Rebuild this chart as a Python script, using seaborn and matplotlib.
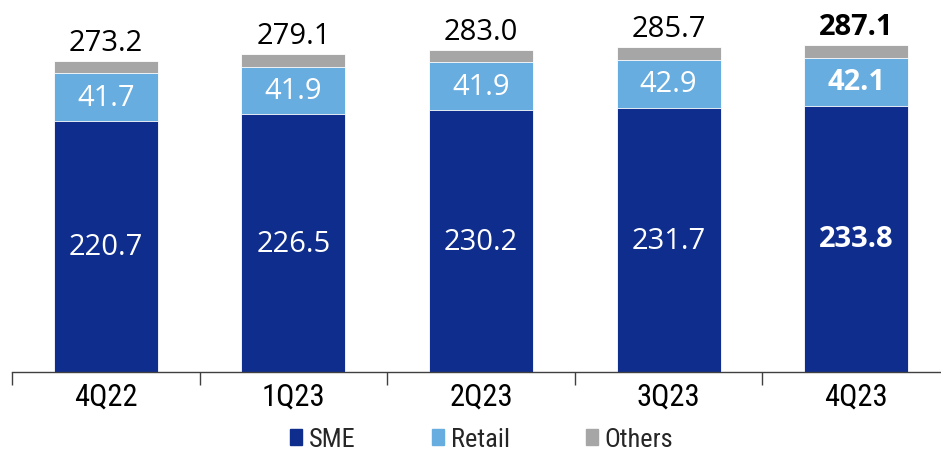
import matplotlib
matplotlib.use("Agg")
import matplotlib.pyplot as plt
import seaborn as sns
import pandas as pd
import numpy as np
from matplotlib.patches import Patch
from matplotlib import font_manager as fm

quarters = ["4Q22", "1Q23", "2Q23", "3Q23", "4Q23"]
sme = [220.7, 226.5, 230.2, 231.7, 233.8]
retail = [41.7, 41.9, 41.9, 42.9, 42.1]
totals = [273.2, 279.1, 283.0, 285.7, 287.1]
others = [round(t - s - r, 1) for t, s, r in zip(totals, sme, retail)]

c_sme = "#0F2D8C"
c_retail = "#68ADE0"
c_others = "#A6A6A6"

sns.set_theme(style="white")
plt.rcParams["font.family"] = ["Open Sans", "DejaVu Sans"]

names = {f.name for f in fm.fontManager.ttflist}
narrow = [n for n in ["Liberation Sans Narrow", "DejaVu Sans Condensed", "Roboto Condensed"] if n in names]
narrow = narrow + ["DejaVu Sans"]

df = pd.DataFrame({"q": quarters, "sme": sme, "retail": retail, "others": others, "total": totals})
df["sr"] = df["sme"] + df["retail"]
df["all"] = df["sr"] + df["others"]

fig = plt.figure(figsize=(9.41, 4.56), dpi=100)
ax = fig.add_axes([12 / 941, 83 / 456, 938 / 941, 373 / 456])

w = 0.555
sns.barplot(data=df, x="q", y="all", color=c_others, width=w, ax=ax, saturation=1,
            edgecolor="white", linewidth=0.6)
sns.barplot(data=df, x="q", y="sr", color=c_retail, width=w, ax=ax, saturation=1,
            edgecolor="white", linewidth=0.6)
sns.barplot(data=df, x="q", y="sme", color=c_sme, width=w, ax=ax, saturation=1,
            edgecolor="white", linewidth=0.6)

ax.set_ylim(0, 373 / 1.138)
ax.set_xlim(-0.5, 4.5)
ax.set_xlabel("")
ax.set_ylabel("")
ax.set_yticks([])
for s in ["top", "right", "left"]:
    ax.spines[s].set_visible(False)
ax.spines["bottom"].set_color("#404040")
ax.spines["bottom"].set_linewidth(1.0)

ax.set_xticks(range(len(quarters)))
ax.set_xticklabels(quarters, family=narrow, fontsize=22, color="black")
ax.tick_params(axis="x", which="major", length=0, pad=7, bottom=True)
ax.set_xticks(np.arange(-0.5, len(quarters), 1.0), minor=True)
ax.tick_params(axis="x", which="minor", length=9, width=1.0, color="#404040",
               direction="out", bottom=True)

for i in range(len(quarters)):
    bold = "bold" if i == len(quarters) - 1 else "normal"
    ax.text(i, sme[i] / 2, f"{sme[i]:.1f}", ha="center", va="center", color="white",
            fontsize=21, fontweight=bold)
    ax.text(i, sme[i] + retail[i] / 2, f"{retail[i]:.1f}", ha="center", va="center",
            color="white", fontsize=21, fontweight=bold)
    ax.annotate(f"{totals[i]:.1f}", (i, df["all"][i]), xytext=(0, 3), textcoords="offset points",
                ha="center", va="bottom", color="black", fontsize=21, fontweight=bold)

handles = [Patch(color=c_sme, label="SME"), Patch(color=c_retail, label="Retail"),
           Patch(color=c_others, label="Others")]
fig.legend(handles=handles, loc="center", bbox_to_anchor=(0.512, 0.034), ncol=3,
           frameon=False, borderpad=0.1,
           prop={"family": narrow, "size": 19}, handlelength=0.45, handleheight=0.55,
           handletextpad=0.25, columnspacing=2.9)

fig.savefig("out.png", dpi=100)
